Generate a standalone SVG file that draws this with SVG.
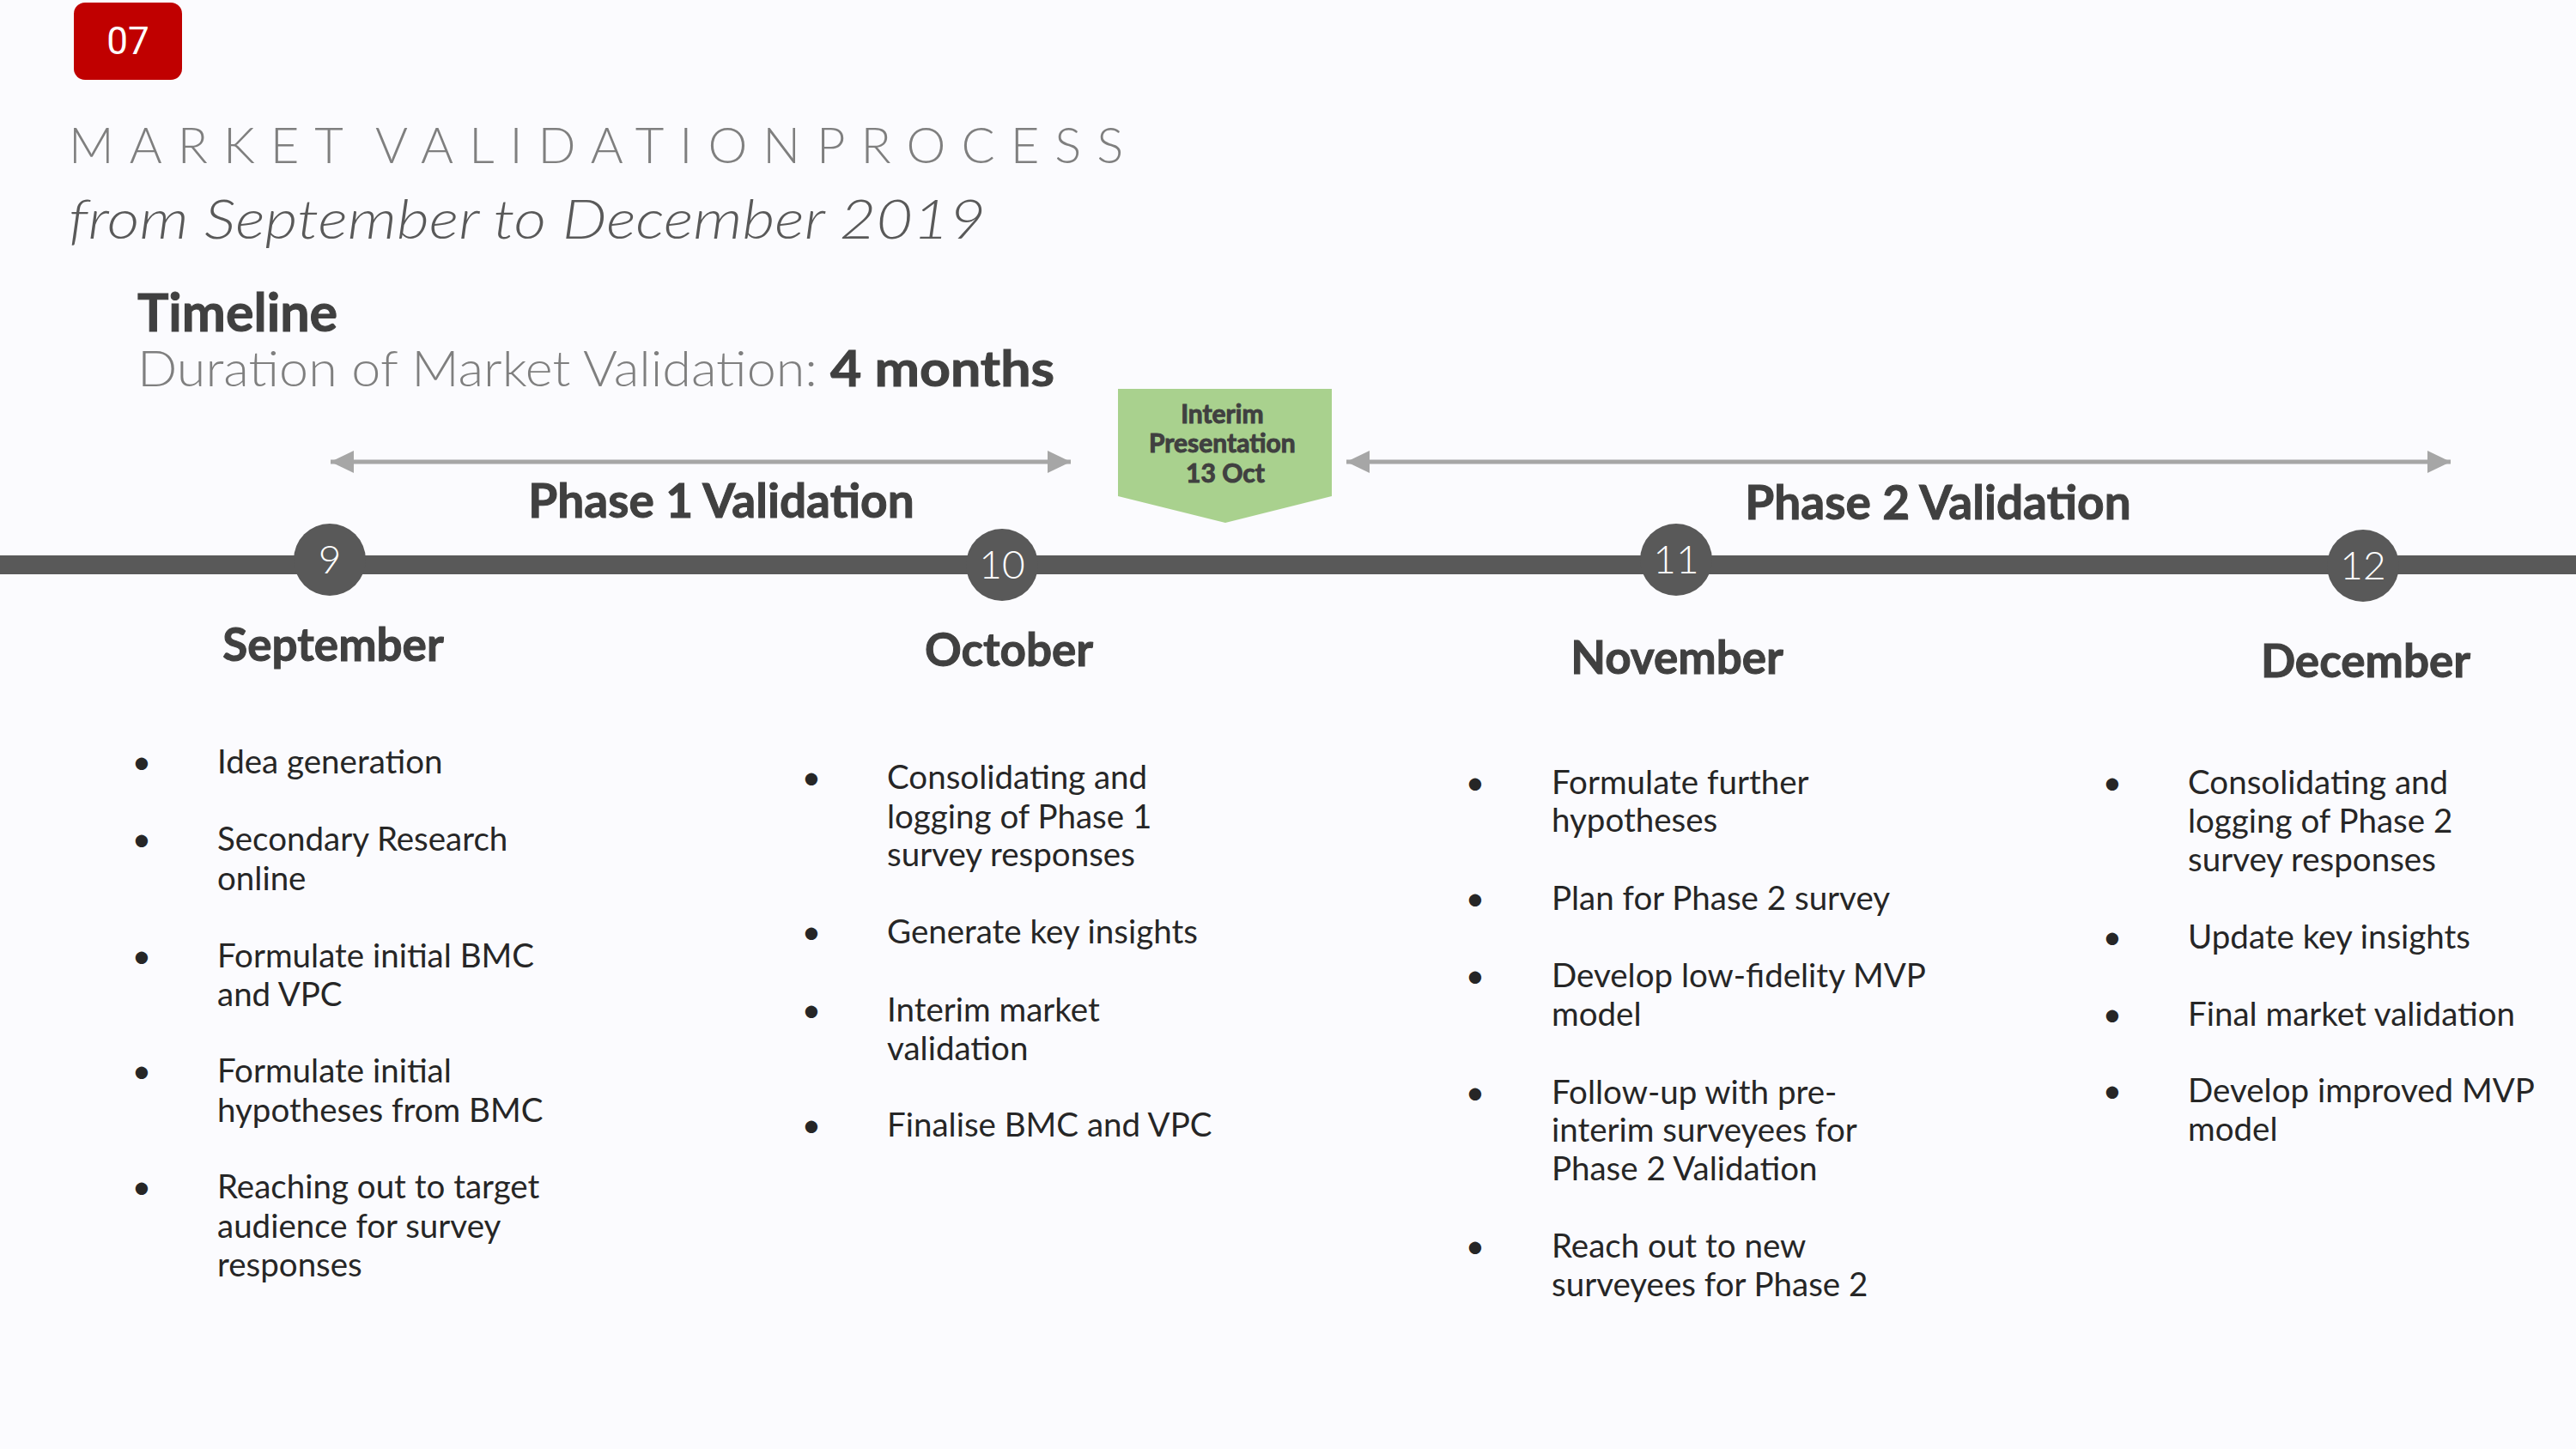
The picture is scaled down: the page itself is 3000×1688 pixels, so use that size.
<svg xmlns="http://www.w3.org/2000/svg" width="3000" height="1688" viewBox="0 0 3000 1688">
  <style>
    .bg { fill: #FBFBFE; }
    .thin { font-family: Lato, 'Liberation Sans', sans-serif; font-weight: 300; }
    .title { font-size: 58px; fill: #7F7F7F; letter-spacing: 18px; }
    .subtitle { font-size: 63px; fill: #595959; font-style: italic; }
    .head { font-family: Lato, 'Liberation Sans', sans-serif; font-weight: 700; fill: #404040; stroke: #404040; stroke-width: 1px; }
    .month { font-size: 53px; text-anchor: middle; }
    .phase { font-size: 55px; text-anchor: middle; }
    .num { font-family: Lato, 'Liberation Sans', sans-serif; font-weight: 300; font-size: 46px; fill: #FFFFFF; text-anchor: middle; }
    .item { font-family: Lato, 'Liberation Sans', sans-serif; font-weight: 400; font-size: 38.5px; fill: #262626; }
    .dot { text-anchor: middle; }
    .bubble { fill: #595959; }
    .span { stroke: #A6A6A6; stroke-width: 5; fill: none; }
  </style>
  <defs>
    <marker id="tip" markerUnits="userSpaceOnUse" markerWidth="28" markerHeight="26" viewBox="0 0 28 26" refX="27" refY="13" orient="auto-start-reverse">
      <path d="M0,0 L27,13 L0,26 Z" fill="#A6A6A6"/>
    </marker>
  </defs>

  <rect class="bg" x="0" y="0" width="3000" height="1688"/>

  <!-- slide number badge -->
  <g id="badge">
    <rect x="86" y="3" width="126" height="90" rx="13" fill="#C00000"/>
    <text x="149" y="63" font-family="Roboto, 'Liberation Sans', sans-serif" font-size="44" fill="#FFFFFF" text-anchor="middle">07</text>
  </g>

  <!-- heading block -->
  <g id="heading">
    <text class="thin title" x="80" y="190">MARKET</text>
    <text class="thin title" x="437" y="190">VALIDATION</text>
    <text class="thin title" x="951" y="190">PROCESS</text>
    <text class="thin subtitle" x="80" y="278" textLength="1068" lengthAdjust="spacingAndGlyphs">from September to December 2019</text>
    <text class="head" x="160" y="386" font-size="61">Timeline</text>
    <text class="thin" x="160" y="450" font-size="58" fill="#7F7F7F" textLength="792" lengthAdjust="spacingAndGlyphs">Duration of Market Validation:</text>
    <text class="head" x="967" y="450" font-size="58" textLength="261" lengthAdjust="spacingAndGlyphs">4 months</text>
  </g>

  <!-- timeline bar -->
  <g id="timeline-bar">
    <rect x="0" y="647" width="3000" height="22" fill="#595959"/>
  </g>

  <!-- phase spans -->
  <g id="connectors">
    <line class="span" x1="385" y1="538" x2="1247" y2="538" marker-start="url(#tip)" marker-end="url(#tip)"/>
    <line class="span" x1="1568" y1="538" x2="2854" y2="538" marker-start="url(#tip)" marker-end="url(#tip)"/>
  </g>

  <g id="phase-1">
    <text class="head phase" x="840" y="603">Phase 1 Validation</text>
  </g>
  <g id="phase-2">
    <text class="head phase" x="2257" y="605">Phase 2 Validation</text>
  </g>

  <!-- interim presentation marker -->
  <g id="interim">
    <path d="M1302,453 H1551 V578 L1427,609 L1302,578 Z" fill="#A9D18E"/>
    <text class="head" font-size="30" text-anchor="middle" stroke-width="0.6">
      <tspan x="1427" y="493">Interim</tspan>
      <tspan x="1427" y="527">Presentation</tspan>
      <tspan x="1427" y="562">13 Oct</tspan>
    </text>
  </g>

  <!-- September -->
  <g id="month-9">
    <circle class="bubble" cx="384" cy="652" r="42"/>
    <text class="num" x="384" y="668">9</text>
    <text class="head month" x="388" y="770">September</text>
    <g class="item">
      <text class="dot" x="165" y="901">•</text>
      <text x="253" y="901">Idea generation</text>
      <text class="dot" x="165" y="991">•</text>
      <text x="253" y="991">Secondary Research</text>
      <text x="253" y="1037">online</text>
      <text class="dot" x="165" y="1127">•</text>
      <text x="253" y="1127">Formulate initial BMC</text>
      <text x="253" y="1172">and VPC</text>
      <text class="dot" x="165" y="1261">•</text>
      <text x="253" y="1261">Formulate initial</text>
      <text x="253" y="1307">hypotheses from BMC</text>
      <text class="dot" x="165" y="1396">•</text>
      <text x="253" y="1396">Reaching out to target</text>
      <text x="253" y="1442">audience for survey</text>
      <text x="253" y="1487">responses</text>
    </g>
  </g>

  <!-- October -->
  <g id="month-10">
    <circle class="bubble" cx="1167" cy="658" r="42"/>
    <text class="num" x="1167" y="674">10</text>
    <text class="head month" x="1175" y="776">October</text>
    <g class="item">
      <text class="dot" x="945" y="919">•</text>
      <text x="1033" y="919">Consolidating and</text>
      <text x="1033" y="965">logging of Phase 1</text>
      <text x="1033" y="1009">survey responses</text>
      <text class="dot" x="945" y="1099">•</text>
      <text x="1033" y="1099">Generate key insights</text>
      <text class="dot" x="945" y="1190">•</text>
      <text x="1033" y="1190">Interim market</text>
      <text x="1033" y="1235">validation</text>
      <text class="dot" x="945" y="1324">•</text>
      <text x="1033" y="1324">Finalise BMC and VPC</text>
    </g>
  </g>

  <!-- November -->
  <g id="month-11">
    <circle class="bubble" cx="1952" cy="652" r="42"/>
    <text class="num" x="1952" y="668">11</text>
    <text class="head month" x="1953" y="785">November</text>
    <g class="item">
      <text class="dot" x="1718" y="925">•</text>
      <text x="1807" y="925">Formulate further</text>
      <text x="1807" y="969">hypotheses</text>
      <text class="dot" x="1718" y="1060">•</text>
      <text x="1807" y="1060">Plan for Phase 2 survey</text>
      <text class="dot" x="1718" y="1150">•</text>
      <text x="1807" y="1150">Develop low-fidelity MVP</text>
      <text x="1807" y="1195">model</text>
      <text class="dot" x="1718" y="1286">•</text>
      <text x="1807" y="1286">Follow-up with pre-</text>
      <text x="1807" y="1330">interim surveyees for</text>
      <text x="1807" y="1375">Phase 2 Validation</text>
      <text class="dot" x="1718" y="1465">•</text>
      <text x="1807" y="1465">Reach out to new</text>
      <text x="1807" y="1510">surveyees for Phase 2</text>
    </g>
  </g>

  <!-- December -->
  <g id="month-12">
    <circle class="bubble" cx="2752" cy="659" r="42"/>
    <text class="num" x="2752" y="675">12</text>
    <text class="head month" x="2755" y="789">December</text>
    <g class="item">
      <text class="dot" x="2460" y="925">•</text>
      <text x="2548" y="925">Consolidating and</text>
      <text x="2548" y="970">logging of Phase 2</text>
      <text x="2548" y="1015">survey responses</text>
      <text class="dot" x="2460" y="1105">•</text>
      <text x="2548" y="1105">Update key insights</text>
      <text class="dot" x="2460" y="1195">•</text>
      <text x="2548" y="1195">Final market validation</text>
      <text class="dot" x="2460" y="1284">•</text>
      <text x="2548" y="1284">Develop improved MVP</text>
      <text x="2548" y="1329">model</text>
    </g>
  </g>
</svg>
